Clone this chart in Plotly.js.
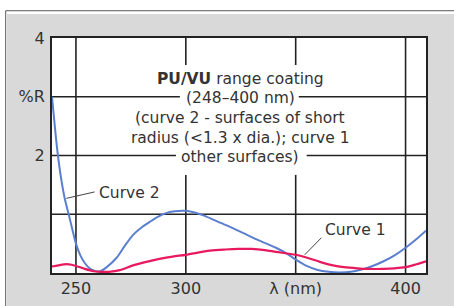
<!DOCTYPE html>
<html><head><meta charset="utf-8">
<script src="https://cdn.plot.ly/plotly-3.0.1.min.js"></script>
<style>html,body{margin:0;padding:0;background:#fff}#chart{width:454px;height:306px}</style>
</head><body><div id="chart"></div>
<script>
// Curve 2 (blue) – surfaces of short radius
var curve2Wavelength = [239.1,240.5,241.8,243.5,245,246.7,248.5,250,252,254,256.5,259,261,264,268.5,272,276,280,283.6,287,291,295,299,303,308,313,318,325,333,341,346,350,355,360,365,370,375,380,385,390,395,400,405,409.3];
var curve2Reflect    = [3.0,2.45,2.0,1.55,1.25,1.0,0.72,0.5,0.3,0.17,0.07,0.03,0.03,0.1,0.26,0.45,0.65,0.78,0.87,0.95,1.02,1.05,1.06,1.04,0.98,0.9,0.82,0.7,0.56,0.43,0.33,0.23,0.12,0.05,0.02,0.01,0.02,0.06,0.12,0.2,0.3,0.43,0.58,0.72];
// Curve 1 (red) – other surfaces
var curve1Wavelength = [239.1,242,245.8,248,250,254,258,261,265,270,276,282,288,294,300,311,318,324,330,336,341,350,356,361,367,372,378,383,390,395,400,405,409.3];
var curve1Reflect    = [0.11,0.13,0.15,0.14,0.12,0.07,0.03,0.02,0.02,0.05,0.13,0.19,0.24,0.28,0.31,0.38,0.4,0.41,0.41,0.39,0.36,0.31,0.25,0.19,0.13,0.1,0.08,0.07,0.07,0.08,0.1,0.15,0.2];

var xTickVals = [250,300,350,400];
var xTickText = ['250','300','λ (nm)','400'];
var yTickVals = [4,3,2];
var yTickText = ['4','%R','2'];

var titleLines = ['<b>PU/VU</b> range coating','(248–400 nm)','(curve 2 - surfaces of short','radius (<1.3 x dia.); curve 1','other surfaces)'];
var titleLineY = [3.30,2.98,2.63,2.30,1.98];

var gridColor = '#222';
var textColor = '#333';
var textFont = {family:'DejaVu Sans', size:15.5, color:textColor};

var shapes = [];
// white outer strips and border lines (paper coords)
shapes.push({type:'rect',xref:'paper',yref:'paper',x0:-0.2,x1:1.2,y0:1.102,y1:1.25,fillcolor:'#fff',line:{width:0},layer:'below'});
shapes.push({type:'rect',xref:'paper',yref:'paper',x0:-0.2,x1:-0.1203,y0:-0.2,y1:1.25,fillcolor:'#fff',line:{width:0},layer:'below'});
shapes.push({type:'line',xref:'paper',yref:'paper',x0:-0.1238,x1:1.2,y0:1.116,y1:1.116,line:{color:'#555',width:1}});
shapes.push({type:'line',xref:'paper',yref:'paper',x0:-0.1238,x1:-0.1238,y0:-0.2,y1:1.116,line:{color:'#555',width:1}});
function gl(x0,x1,y0,y1){shapes.push({type:'line',xref:'x',yref:'y',x0:x0,x1:x1,y0:y0,y1:y1,line:{color:gridColor,width:1.6},layer:'below'});}
// horizontal grid
gl(239.1,409.3,1,1);
gl(239.1,297.3,3,3); gl(351.4,409.3,3,3);
gl(239.1,295.5,2,2); gl(355,409.3,2,2);
// vertical grid
gl(250,250,0,4); gl(400,400,0,4);
gl(300,300,3.54,4); gl(300,300,0,1.67);
gl(350,350,3.54,4); gl(350,350,0,1.67);
// leader lines
shapes.push({type:'line',xref:'x',yref:'y',x0:245.6,y0:1.27,x1:258.5,y1:1.38,line:{color:'#444',width:1}});
shapes.push({type:'line',xref:'x',yref:'y',x0:354.1,y0:0.31,x1:361.7,y1:0.60,line:{color:'#444',width:1}});

var annotations = [];
for (var i=0;i<titleLines.length;i++){
  annotations.push({xref:'paper',yref:'y',x:0.503,y:titleLineY[i],text:titleLines[i],showarrow:false,xanchor:'center',yanchor:'middle',font:textFont});
}
annotations.push({xref:'x',yref:'y',x:259.5,y:1.36,text:'Curve 2',showarrow:false,xanchor:'left',yanchor:'middle',font:textFont});
annotations.push({xref:'x',yref:'y',x:362.3,y:0.73,text:'Curve 1',showarrow:false,xanchor:'left',yanchor:'middle',font:textFont});

var data = [
  {x:curve2Wavelength,y:curve2Reflect,type:'scatter',mode:'lines',line:{color:'#5b7fcf',width:2,shape:'spline',smoothing:0.8},hoverinfo:'skip'},
  {x:curve1Wavelength,y:curve1Reflect,type:'scatter',mode:'lines',line:{color:'#e8195c',width:2.2,shape:'spline',smoothing:0.8},hoverinfo:'skip'}
];

var layout = {
  width:454,height:306,
  margin:{l:52,r:28,t:38,b:33,pad:0},
  paper_bgcolor:'#d9d9d9',plot_bgcolor:'#fff',
  showlegend:false,
  xaxis:{range:[239.1,409.3],showgrid:false,zeroline:false,showline:true,mirror:true,linecolor:'#222',linewidth:2,
    tickvals:xTickVals,ticktext:xTickText,ticks:'',ticklabelstandoff:0,tickfont:{family:'DejaVu Sans',size:16,color:textColor}},
  yaxis:{range:[0,4],showgrid:false,zeroline:false,showline:true,mirror:true,linecolor:'#222',linewidth:2,
    tickvals:yTickVals,ticktext:yTickText,ticks:'',ticklabelstandoff:2,tickfont:{family:'DejaVu Sans',size:16,color:textColor}},
  shapes:shapes,
  annotations:annotations
};
Plotly.newPlot('chart',data,layout,{staticPlot:true,displayModeBar:false});
</script></body></html>
